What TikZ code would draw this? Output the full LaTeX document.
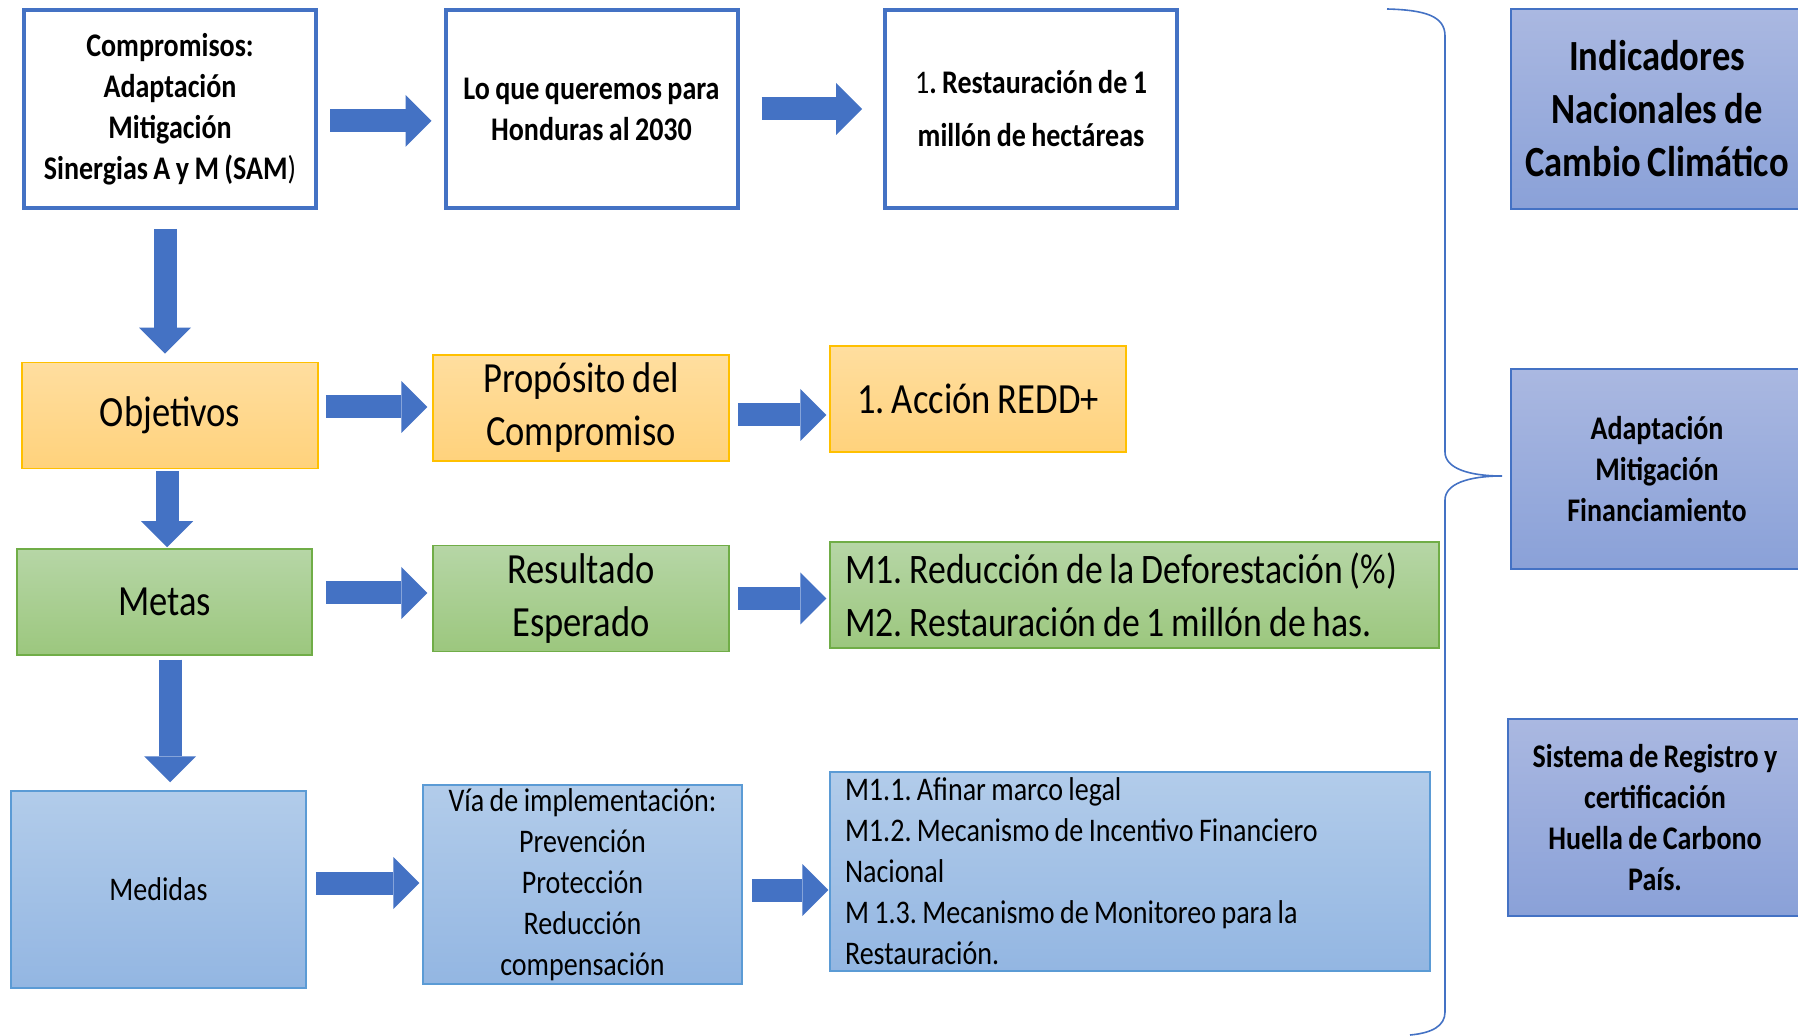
\documentclass[tikz,border=0pt]{standalone}
\usepackage{fontspec}
\setmainfont[FakeStretch=0.85,WordSpace=0.85]{Carlito}
\frenchspacing
\usetikzlibrary{arrows.meta}

\definecolor{azul}{HTML}{4472C4}
\definecolor{naranjaborde}{HTML}{FFC000}
\definecolor{naranjaA}{HTML}{FFDE9F}
\definecolor{naranjaB}{HTML}{FFD27C}
\definecolor{verdeborde}{HTML}{70AD47}
\definecolor{verdeA}{HTML}{B6D6A6}
\definecolor{verdeB}{HTML}{9CC77E}
\definecolor{celesteborde}{HTML}{5B9BD5}
\definecolor{celesteA}{HTML}{B2CCEA}
\definecolor{celesteB}{HTML}{93B6E2}
\definecolor{lilaA}{HTML}{AAB8E1}
\definecolor{lilaB}{HTML}{8AA1D8}

\begin{document}
\begin{tikzpicture}[x=0.5pt,y=-0.5pt,
  caja/.style={draw=azul, line width=2pt, fill=white, align=center, inner sep=0pt,
    minimum width=146pt, minimum height=99pt, font=\bfseries\fontsize{16.5}{20.5}\selectfont},
  naranja/.style={draw=naranjaborde, line width=0.75pt, top color=naranjaA, bottom color=naranjaB,
    align=center, inner sep=0pt, minimum width=148pt, minimum height=53pt, font=\fontsize{21.5}{26.5}\selectfont},
  verde/.style={draw=verdeborde, line width=0.75pt, top color=verdeA, bottom color=verdeB,
    align=center, inner sep=0pt, minimum width=148pt, minimum height=53pt, font=\fontsize{21.5}{26.5}\selectfont},
  celeste/.style={draw=celesteborde, line width=0.75pt, top color=celesteA, bottom color=celesteB,
    align=center, inner sep=0pt, minimum height=99pt, font=\fontsize{16.5}{20.5}\selectfont},
  lila/.style={draw=azul, line width=0.75pt, top color=lilaA, bottom color=lilaB, align=center,
    inner sep=0pt, minimum width=146pt, minimum height=100pt, font=\bfseries\fontsize{16.5}{20.5}\selectfont},
  flecha/.style={draw=azul, line width=11.5pt, -{Triangle[width=26pt,length=13pt,line width=0pt]}}]
  \useasboundingbox (0,0) rectangle (1798,1036);

  \node[caja] (comp) at (170,109) {Compromisos:\\Adaptación\\Mitigación\\Sinergias A y M (SAM{\mdseries )}};
  \node[caja] (lo) at (591.5,109) {Lo que queremos para\\Honduras al 2030};
  \node[caja, font=\bfseries\fontsize{16.5}{26.5}\selectfont] (rest) at (1031,109) {{\mdseries 1}. Restauración de 1\\millón de hectáreas};

  \node[naranja] (obj) at (170,415.5) {Objetivos};
  \node[naranja] (prop) at (581,408) {Propósito del\\Compromiso};
  \node[naranja] (redd) at (978,399) {1. Acción REDD+};

  \node[verde, minimum width=147.5pt] (metas) at (164.5,602) {Metas};
  \node[verde] (res) at (581,598.5) {Resultado\\Esperado};
  \node[verde, align=flush left, text width=289.5pt, inner xsep=7.5pt, font=\fontsize{21}{26.5}\selectfont] (mm) at (1134.5,595)
    {M1. Reducción de la Deforestación (\%)\\M2. Restauración de 1 millón de has.};

  \node[celeste, minimum width=147.5pt, minimum height=98.5pt] (med) at (158.5,889.5) {Medidas};
  \node[celeste, minimum width=159.5pt, minimum height=99.5pt] (via) at (582.5,884.5)
    {Vía de implementación:\\Prevención\\Protección\\Reducción\\compensación};
  \node[celeste, align=flush left, text width=285pt, inner xsep=7.5pt, minimum height=99.5pt] (acc) at (1130,871.5)
    {M1.1. Afinar marco legal\\M1.2. Mecanismo de Incentivo Financiero\\Nacional\\M 1.3. Mecanismo de Monitoreo para la\\Restauración.};

  \node[lila, font=\bfseries\fontsize{21.5}{26.5}\selectfont] (ind) at (1657,109) {Indicadores\\Nacionales de\\Cambio Climático};
  \node[lila] (adap) at (1657,469) {Adaptación\\Mitigación\\Financiamiento};
  \node[lila, minimum width=147pt, minimum height=98.5pt] (sis) at (1655,817.5)
    {Sistema de Registro y\\certificación\\Huella de Carbono\\País.};

  \draw[flecha, shorten <=6pt, shorten >=6pt] ([yshift=-6pt]comp.east) -- ([yshift=-6pt]comp.east -| lo.west);
  \draw[flecha, shorten <=11pt, shorten >=10.5pt] (lo.east) -- (rest.west);
  \draw[flecha, shorten <=9.5pt, shorten >=4pt] ([xshift=-2.5pt]comp.south) -- ([xshift=-2.5pt]obj.north);

  \draw[flecha, shorten <=3.5pt, shorten >=2.5pt] ([yshift=4.25pt]obj.east) -- ([yshift=4.25pt]obj.east -| prop.west);
  \draw[flecha, shorten <=4pt, shorten >=1.5pt] ([yshift=-3.5pt]prop.east) -- ([yshift=-3.5pt]prop.east -| redd.west);
  \draw[flecha, shorten <=1pt, shorten >=0.5pt] ([xshift=-1.5pt]obj.south) -- ([xshift=-1.5pt]obj.south |- metas.north);

  \draw[flecha, shorten <=6.5pt, shorten >=2.5pt] ([yshift=4.5pt]metas.east) -- ([yshift=4.5pt]metas.east -| res.west);
  \draw[flecha, shorten <=4pt, shorten >=1.5pt] (res.east) -- (res.east -| mm.west);
  \draw[flecha, shorten <=2pt, shorten >=4pt] ([xshift=2.75pt]metas.south) -- ([xshift=2.75pt]metas.south |- med.north);

  \draw[flecha, shorten <=4.5pt, shorten >=1.5pt] ([yshift=3.25pt]med.east) -- ([yshift=3.25pt]med.east -| via.west);
  \draw[flecha, shorten <=4.5pt, shorten >=0.5pt] ([yshift=-2.75pt]via.east) -- ([yshift=-2.75pt]via.east -| acc.west);

  \draw[azul, line width=0.8pt] (1387,9) .. controls (1425,10) and (1445,16) .. (1445,36) -- (1445,452)
    .. controls (1445,468) and (1468,476) .. (1502,476) .. controls (1468,476) and (1445,484) .. (1445,500)
    -- (1445,1012) .. controls (1445,1026) and (1432,1033) .. (1410,1035);
\end{tikzpicture}
\end{document}
